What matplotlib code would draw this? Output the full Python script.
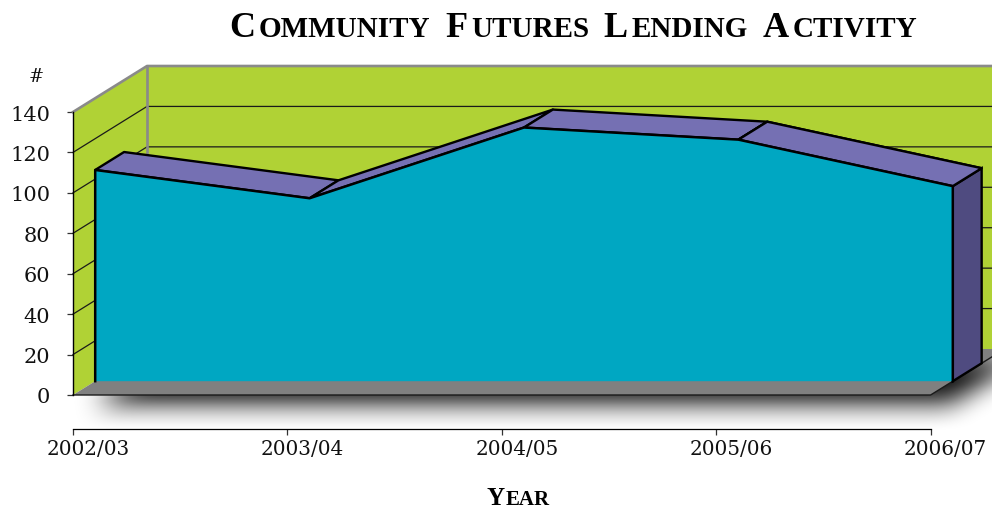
import numpy as np
import matplotlib
matplotlib.use("Agg")
import matplotlib.pyplot as plt
from matplotlib.path import Path
from matplotlib.transforms import ScaledTranslation

years = ["2002/03", "2003/04", "2004/05", "2005/06", "2006/07"]
lending = [104.5, 90.5, 125.5, 119.5, 96.5]
y_ticks = [0, 20, 40, 60, 80, 100, 120, 140]

WIDTH, HEIGHT, DPI = 992, 510, 100

# pixel layout of the front plane of the fake 3d box
PX_X0, PX_PER_CAT = 73, 214.4
PX_Y0, PX_PER_UNIT = 396, 2.0214

# how far the box goes back, in data units
DEPTH_X = 74 / PX_PER_CAT
DEPTH_Y = 46 / PX_PER_UNIT
SERIES_FRONT = 0.30
SERIES_BACK = 0.69

GREEN = "#B0D235"
TEAL = "#00A7C2"
TOP = "#7570B3"
SIDE = "#4F4B80"
FLOOR = "#808080"
WALL_EDGE = "#8A8A8A"
TEXT = "#111111"
SERIF = "DejaVu Serif"
TITLE_FONT = "Liberation Serif"


def project(cat, value, depth):
    """Map a category, value and depth to the 2d axes."""
    return cat + depth * DEPTH_X, value + depth * DEPTH_Y


def quad(ax, points, **kwargs):
    xs, ys = zip(*points)
    ax.fill(xs, ys, **kwargs)


def draw_shadow(ax, x_min, x_max, floor):
    """Soft shadow below the floor, a blurred copy of its shape."""
    pad = 40
    nx, ny = WIDTH + 2 * pad, HEIGHT + 2 * pad
    x_step = 1 / PX_PER_CAT
    y_step = 1 / PX_PER_UNIT
    y_top = PX_Y0 / PX_PER_UNIT
    xs = x_min + (np.arange(nx) - pad + 0.5) * x_step
    ys = y_top - (np.arange(ny) - pad + 0.5) * y_step
    gx, gy = np.meshgrid(xs, ys)

    shifted = [(x + 20 * x_step, y - 9 * y_step) for x, y in floor]
    mask = Path(shifted).contains_points(np.c_[gx.ravel(), gy.ravel()])
    mask = mask.reshape(gx.shape).astype(float)

    kernel = np.ones(29) / 29
    for _ in range(2):
        mask = np.apply_along_axis(np.convolve, 0, mask, kernel, mode="same")
        mask = np.apply_along_axis(np.convolve, 1, mask, kernel, mode="same")

    rgba = np.zeros(mask.shape + (4,))
    rgba[..., 3] = mask * 0.95
    ax.imshow(rgba, extent=(xs[0], xs[-1], ys[-1], ys[0]), aspect="auto",
              zorder=0.5, interpolation="bilinear")


def small_caps(fig, text, x_center, y_base, big, small, tracking=1.0):
    """Write text as small caps, one run per size, centred on x_center (pixels)."""
    renderer = fig.canvas.get_renderer()
    runs = []
    for word_i, word in enumerate(text.split(" ")):
        if word_i:
            runs.append((" ", big))
        runs.append((word[0], big))
        if len(word) > 1:
            runs.append((word[1:].upper(), small))

    items = []
    total = 0
    for chunk, size in runs:
        if chunk == " ":
            adv = size * 0.42
            items.append((None, size, adv))
        else:
            t = fig.text(0, 0, chunk, fontsize=size, family=TITLE_FONT,
                         weight="bold", color="black")
            adv = t.get_window_extent(renderer).width + tracking
            items.append((t, size, adv))
        total += adv

    x = x_center - total / 2
    for t, size, adv in items:
        if t is not None:
            t.set_position((x / WIDTH, 1 - y_base / HEIGHT))
        x += adv


def main():
    fig = plt.figure(figsize=(WIDTH / DPI, HEIGHT / DPI), dpi=DPI)
    ax = fig.add_axes([0, 0, 1, 1])
    ax.patch.set_alpha(0)

    x_min = -PX_X0 / PX_PER_CAT
    x_max = (WIDTH - PX_X0) / PX_PER_CAT
    y_top = PX_Y0 / PX_PER_UNIT
    y_bottom = (PX_Y0 - HEIGHT) / PX_PER_UNIT

    cats = np.arange(len(years))
    last = cats[-1]
    y_max = y_ticks[-1]

    floor = [project(0, 0, 0), project(last, 0, 0), project(last, 0, 1), project(0, 0, 1)]
    draw_shadow(ax, x_min, x_max, floor)

    # walls
    quad(ax, [project(0, 0, 1), project(last, 0, 1), project(last, y_max, 1), project(0, y_max, 1)],
         color=GREEN, lw=0, zorder=1)
    quad(ax, [project(0, 0, 0), project(0, 0, 1), project(0, y_max, 1), project(0, y_max, 0)],
         color=GREEN, lw=0, zorder=1)
    quad(ax, floor, color=FLOOR, lw=0, zorder=1)

    # gridlines, none at the top edge which is grey
    for v in y_ticks[:-1]:
        if v > 0:
            xs, ys = zip(project(0, v, 0), project(0, v, 1), project(last, v, 1))
            ax.plot(xs, ys, color="#1A1A1A", lw=0.9, zorder=2)

    xs, ys = zip(project(0, y_max, 0), project(0, y_max, 1), project(last, y_max, 1))
    ax.plot(xs, ys, color=WALL_EDGE, lw=1.9, zorder=2)
    xs, ys = zip(project(0, 0, 1), project(0, y_max, 1))
    ax.plot(xs, ys, color=WALL_EDGE, lw=1.9, zorder=2)
    xs, ys = zip(project(0, 0, 0), project(last, 0, 0), project(last, 0, 1))
    ax.plot(xs, ys, color="#1A1A1A", lw=1.0, zorder=2)

    # top faces, left to right
    for i in cats[:-1]:
        quad(ax, [project(i, lending[i], SERIES_FRONT), project(i + 1, lending[i + 1], SERIES_FRONT),
                  project(i + 1, lending[i + 1], SERIES_BACK), project(i, lending[i], SERIES_BACK)],
             facecolor=TOP, edgecolor="black", lw=1.7, zorder=3 + i * 0.01, joinstyle="round")

    # end face
    quad(ax, [project(last, 0, SERIES_FRONT), project(last, lending[last], SERIES_FRONT),
              project(last, lending[last], SERIES_BACK), project(last, 0, SERIES_BACK)],
         facecolor=SIDE, edgecolor="black", lw=1.7, zorder=3.5)
    quad(ax, [project(last, lending[last], SERIES_FRONT), project(last - 1, lending[last - 1], SERIES_FRONT),
              project(last - 1, lending[last - 1], SERIES_BACK), project(last, lending[last], SERIES_BACK)],
         facecolor=TOP, edgecolor="black", lw=1.7, zorder=3.6)

    # front of the area
    front = [project(i, lending[i], SERIES_FRONT) for i in cats]
    base = [project(last, 0, SERIES_FRONT), project(0, 0, SERIES_FRONT)]
    quad(ax, front + base, color=TEAL, lw=0, zorder=4)
    xs, ys = zip(*([base[1]] + front + [base[0]]))
    ax.plot(xs, ys, color="black", lw=1.8, zorder=4.1)

    # real axes, moved to where the box sits
    ax.set_xlim(x_min, x_max)
    ax.set_ylim(y_bottom, y_top)
    for side in ("top", "right"):
        ax.spines[side].set_visible(False)
    ax.spines["left"].set_position(("data", 0))
    ax.spines["left"].set_bounds(0, y_max)
    ax.spines["left"].set_linewidth(1.0)
    ax.spines["left"].set_zorder(5)
    ax.spines["bottom"].set_position(("data", -16.8))
    ax.spines["bottom"].set_bounds(0, last)
    ax.spines["bottom"].set_linewidth(0.9)

    ax.set_yticks(y_ticks)
    ax.set_xticks(cats)
    ax.set_xticklabels(years)
    ax.tick_params(axis="y", length=4.5, width=0.9, pad=12, color="#333333", labelcolor=TEXT)
    ax.tick_params(axis="x", length=4, width=0.9, pad=3, color="#333333", labelcolor=TEXT)
    for label in ax.get_yticklabels():
        label.set_family(SERIF)
        label.set_fontsize(15)
    shift = ScaledTranslation(15 / DPI, 0, fig.dpi_scale_trans)
    for label in ax.get_xticklabels():
        label.set_family(SERIF)
        label.set_fontsize(14.4)
        label.set_transform(label.get_transform() + shift)

    fig.text(36 / WIDTH, 1 - 77 / HEIGHT, "#", family=SERIF, fontsize=13, color=TEXT,
             ha="center", va="center")

    fig.canvas.draw()
    small_caps(fig, "Community Futures Lending Activity", 575, 37, 26, 21, tracking=3.7)
    small_caps(fig, "Year", 519, 505, 18, 15, tracking=1.5)

    fig.savefig("out.png", dpi=DPI)


if __name__ == "__main__":
    main()
